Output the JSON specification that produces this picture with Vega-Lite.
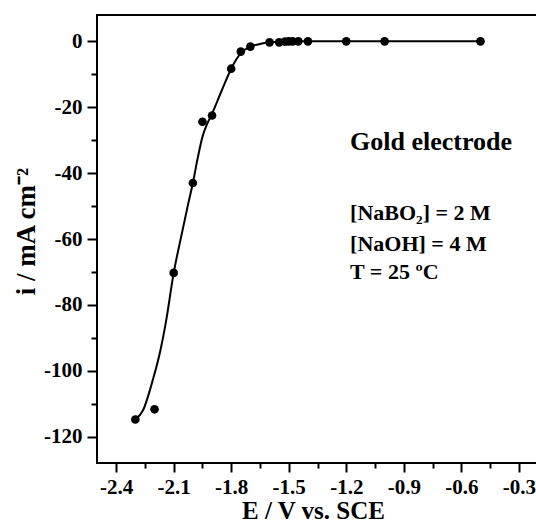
{
  "$schema": "https://vega.github.io/schema/vega-lite/v6.json",
  "width": 441,
  "height": 448,
  "autosize": {"type": "none"},
  "padding": {"left": 97, "top": 15, "right": 0, "bottom": 60},
  "background": "white",
  "config": {
    "view": {"stroke": "black", "strokeWidth": 2},
    "font": "Liberation Serif"
  },
  "datasets": {
    "points": [
      {"E": -2.30, "i": -114.8},
      {"E": -2.20, "i": -111.7},
      {"E": -2.10, "i": -70.3},
      {"E": -2.00, "i": -43.0},
      {"E": -1.95, "i": -24.4},
      {"E": -1.90, "i": -22.5},
      {"E": -1.80, "i": -8.3},
      {"E": -1.75, "i": -3.1},
      {"E": -1.70, "i": -1.6},
      {"E": -1.60, "i": -0.3},
      {"E": -1.55, "i": -0.3},
      {"E": -1.52, "i": -0.1},
      {"E": -1.50, "i": 0.0},
      {"E": -1.48, "i": 0.0},
      {"E": -1.45, "i": 0.0},
      {"E": -1.40, "i": 0.0},
      {"E": -1.20, "i": 0.0},
      {"E": -1.00, "i": 0.0},
      {"E": -0.50, "i": 0.0}
    ],
    "curve": [
      {"E": -2.30, "i": -114.8},
      {"E": -2.26, "i": -112.0},
      {"E": -2.21, "i": -103.0},
      {"E": -2.17, "i": -94.0},
      {"E": -2.14, "i": -85.0},
      {"E": -2.10, "i": -70.3},
      {"E": -2.06, "i": -59.0},
      {"E": -2.025, "i": -49.5},
      {"E": -2.00, "i": -43.0},
      {"E": -1.975, "i": -35.5},
      {"E": -1.95, "i": -29.0},
      {"E": -1.925, "i": -25.0},
      {"E": -1.90, "i": -22.0},
      {"E": -1.85, "i": -15.0},
      {"E": -1.80, "i": -8.3},
      {"E": -1.75, "i": -3.6},
      {"E": -1.70, "i": -1.6},
      {"E": -1.65, "i": -0.8},
      {"E": -1.60, "i": -0.3},
      {"E": -1.50, "i": -0.05},
      {"E": -1.40, "i": 0.0},
      {"E": -0.50, "i": 0.0}
    ],
    "title": [
      {"E": -1.18, "i": -30.5, "label": "Gold electrode"}
    ],
    "notes": [
      {"E": -1.18, "i": -52.0, "label": "[NaBO₂] = 2 M"},
      {"E": -1.18, "i": -61.5, "label": "[NaOH] = 4 M"},
      {"E": -1.18, "i": -70.0, "label": "T = 25 ºC"}
    ]
  },
  "layer": [
    {
      "data": {"name": "curve"},
      "mark": {"type": "line", "interpolate": "monotone", "color": "black", "strokeWidth": 2},
      "encoding": {
        "x": {
          "field": "E", "type": "quantitative",
          "scale": {"domain": [-2.5, -0.2], "nice": false, "zero": false},
          "axis": {
            "orient": "bottom",
            "grid": false,
            "domain": false,
            "values": [-2.4, -2.1, -1.8, -1.5, -1.2, -0.9, -0.6, -0.3],
            "labelExpr": "replace(format(datum.value, '.1f'), '\u2212', '-')",
            "labelFont": "Liberation Serif",
            "labelFontWeight": "bold",
            "labelFontSize": 21,
            "labelColor": "black",
            "tickColor": "black",
            "tickWidth": 2,
            "tickSize": 9,
            "labelPadding": 4,
            "labelFlush": false,
            "title": "E / V vs. SCE",
            "titleFont": "Liberation Serif",
            "titleFontWeight": "bold",
            "titleFontSize": 25,
            "titleColor": "black",
            "titlePadding": 1,
            "titleX": 216
          }
        },
        "y": {
          "field": "i", "type": "quantitative",
          "scale": {"domain": [-128, 8], "nice": false, "zero": false},
          "axis": {
            "orient": "left",
            "grid": false,
            "domain": false,
            "values": [0, -20, -40, -60, -80, -100, -120],
            "labelExpr": "replace(format(datum.value, 'd'), '\u2212', '-')",
            "labelFont": "Liberation Serif",
            "labelFontWeight": "bold",
            "labelFontSize": 21,
            "labelColor": "black",
            "tickColor": "black",
            "tickWidth": 2,
            "tickSize": 10,
            "labelPadding": 5,
            "labelFlush": false,
            "title": "i / mA cm⁻²",
            "titleFont": "Liberation Serif",
            "titleFontWeight": "bold",
            "titleFontSize": 27,
            "titleColor": "black",
            "titlePadding": 3,
            "titleY": 216
          }
        }
      }
    },
    {
      "data": {"name": "points"},
      "mark": {"type": "circle", "color": "black", "size": 75, "opacity": 1},
      "encoding": {
        "x": {
          "field": "E", "type": "quantitative",
          "axis": {
            "orient": "bottom",
            "grid": false,
            "domain": false,
            "values": [-2.25, -1.95, -1.65, -1.35, -1.05, -0.75, -0.45],
            "labels": false,
            "tickColor": "black",
            "tickWidth": 2,
            "tickSize": 5,
            "title": null
          }
        },
        "y": {
          "field": "i", "type": "quantitative",
          "axis": {
            "orient": "left",
            "grid": false,
            "domain": false,
            "values": [-10, -30, -50, -70, -90, -110],
            "labels": false,
            "tickColor": "black",
            "tickWidth": 2,
            "tickSize": 6,
            "title": null
          }
        }
      }
    },
    {
      "data": {"name": "title"},
      "mark": {"type": "text", "align": "left", "baseline": "middle", "font": "Liberation Serif", "fontWeight": "bold", "fontSize": 26, "color": "black"},
      "encoding": {
        "x": {"field": "E", "type": "quantitative", "axis": null},
        "y": {"field": "i", "type": "quantitative", "axis": null},
        "text": {"field": "label"}
      }
    },
    {
      "data": {"name": "notes"},
      "mark": {"type": "text", "align": "left", "baseline": "middle", "font": "Liberation Serif", "fontWeight": "bold", "fontSize": 22, "color": "black"},
      "encoding": {
        "x": {"field": "E", "type": "quantitative", "axis": null},
        "y": {"field": "i", "type": "quantitative", "axis": null},
        "text": {"field": "label"}
      }
    }
  ],
  "resolve": {"axis": {"x": "independent", "y": "independent"}}
}
